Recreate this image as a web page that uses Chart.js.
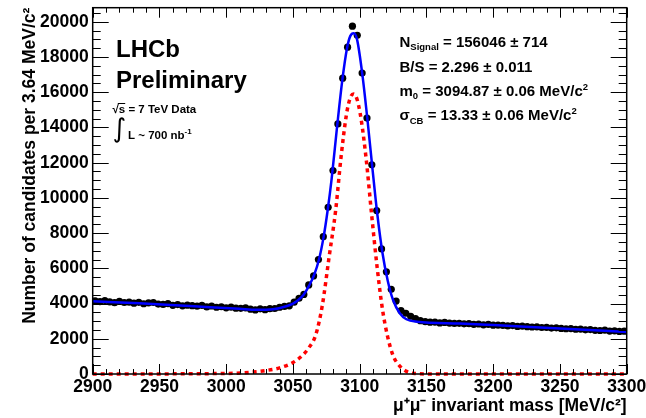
<!DOCTYPE html>
<html>
<head>
<meta charset="utf-8">
<script src="https://cdn.jsdelivr.net/npm/chart.js@4.4.1/dist/chart.umd.min.js"></script>
<style>
  html, body { margin: 0; padding: 0; background: #fff; }
</style>
</head>
<body>
<canvas id="Charts_Jpsi_Mass_Fit" width="646" height="418"></canvas>
<script>
// histogram: 110 bins of 3.64 MeV/c2 between 2900 and 3300
var binLow = 2900;
var binWidth = 400 / 110;
var candidates = [
  4160, 4110, 4170, 4090, 4050, 4120, 4060, 4080, 4020, 4070,
  3990, 4040, 4060, 3970, 3950, 4000, 3900, 3940, 3870, 3910,
  3880, 3850, 3900, 3810, 3860, 3790, 3820, 3760, 3800, 3740,
  3730, 3760, 3680, 3640, 3700, 3650, 3710, 3720, 3790, 3840,
  3870, 4080, 4300, 4520, 5060, 5570, 6500, 7800, 9470, 11550,
  14200, 16800, 18560, 19750, 19230, 17090, 14530, 11880, 9280, 7100,
  5800, 4810, 4140, 3600, 3450, 3280, 3150, 3030, 2970, 2940,
  2950, 2900, 2930, 2890, 2870, 2880, 2850, 2860, 2820, 2840,
  2790, 2820, 2770, 2780, 2760, 2730, 2750, 2700, 2720, 2690,
  2670, 2680, 2640, 2650, 2610, 2620, 2590, 2570, 2580, 2540,
  2550, 2510, 2520, 2480, 2470, 2490, 2440, 2450, 2420, 2430
];

// total fit (blue)
var fitMass  = [2900, 2935, 2973, 3010, 3023, 3035, 3045, 3050, 3054, 3058, 3062, 3066, 3069.5, 3073, 3076, 3079, 3083, 3087, 3090.5, 3093, 3095.5, 3098, 3102, 3106, 3109.5, 3113, 3117, 3121, 3125, 3130, 3135, 3143, 3175, 3200, 3250, 3300];
var fitTotal = [4130, 4020, 3860, 3700, 3650, 3680, 3850, 4000, 4200, 4500, 5000, 5650, 6500, 7800, 9300, 11100, 14000, 16700, 18500, 19200, 19350, 19000, 17000, 14300, 11700, 9200, 6900, 5300, 4200, 3450, 3110, 2970, 2870, 2780, 2580, 2390];

// signal component (red dotted)
var signalMass = [2900, 3000, 3020, 3030, 3040, 3050, 3057, 3062, 3067, 3072, 3077, 3082, 3086, 3090, 3093, 3095.5, 3098, 3101, 3105, 3109, 3113, 3117, 3121, 3125, 3130, 3135, 3140, 3150, 3300];
var signalOnly = [0, 30, 110, 200, 350, 650, 1050, 1500, 2200, 3900, 6600, 9300, 12300, 14700, 15700, 15900, 15600, 14500, 12100, 9000, 6100, 3700, 2100, 1050, 450, 150, 40, 5, 0];

// axis labels
var xTickValues = [2900, 2950, 3000, 3050, 3100, 3150, 3200, 3250, 3300];
var yTickValues = [0, 2000, 4000, 6000, 8000, 10000, 12000, 14000, 16000, 18000, 20000];

var xMin = 2900, xMax = 3300, yMax = 20800;

var fontFamily = '"Liberation Sans", Arial, Helvetica, sans-serif';

function pairs(xs, ys) {
  return xs.map(function (v, i) { return { x: v, y: ys[i] }; });
}

var histPoints = candidates.map(function (v, i) {
  return { x: binLow + (i + 0.5) * binWidth, y: v };
});

// draw a string made of runs with sub/superscripts
function drawRuns(ctx, x, y, parts) {
  parts.forEach(function (p) {
    ctx.font = p.f;
    ctx.fillText(p.t, x, y + (p.dy || 0));
    x += ctx.measureText(p.t).width;
  });
}

var frameAndText = {
  id: 'frameAndText',
  afterDraw: function (chart) {
    var ctx = chart.ctx, a = chart.chartArea;
    var xs = chart.scales.x, ys = chart.scales.y;
    ctx.save();
    ctx.strokeStyle = '#000';
    ctx.lineWidth = 1;
    ctx.beginPath();
    // ROOT style ticks, inside the frame on all four sides
    for (var v = xMin; v <= xMax; v += 10) {
      var px = Math.round(xs.getPixelForValue(v)) + 0.5;
      var len = (v % 50 === 0) ? 10 : 5;
      ctx.moveTo(px, a.bottom); ctx.lineTo(px, a.bottom - len);
      ctx.moveTo(px, a.top); ctx.lineTo(px, a.top + len);
    }
    for (var w = 0; w <= yMax; w += 500) {
      var py = Math.round(ys.getPixelForValue(w)) + 0.5;
      var l2 = (w % 2000 === 0) ? 16 : 8;
      ctx.moveTo(a.left, py); ctx.lineTo(a.left + l2, py);
      ctx.moveTo(a.right, py); ctx.lineTo(a.right - l2, py);
    }
    ctx.stroke();
    ctx.lineWidth = 1.5;
    ctx.strokeRect(a.left, a.top, a.right - a.left, a.bottom - a.top);

    ctx.fillStyle = '#000';
    ctx.textBaseline = 'alphabetic';
    ctx.textAlign = 'left';

    // LHCb label
    ctx.font = 'bold 24px ' + fontFamily;
    ctx.fillText('LHCb', 116, 57);
    ctx.fillText('Preliminary', 116, 88);

    // energy and luminosity
    ctx.font = 'bold 11.5px ' + fontFamily;
    ctx.fillText('\u221A', 112.5, 112.5);
    var rw = ctx.measureText('\u221A').width;
    var sw = ctx.measureText('s').width;
    ctx.fillText('s = 7 TeV Data', 112.5 + rw, 112.5);
    ctx.lineWidth = 1;
    ctx.beginPath();
    ctx.moveTo(112.5 + rw - 1, 103.5); ctx.lineTo(112.5 + rw + sw, 103.5);
    ctx.stroke();
    ctx.font = '26px "DejaVu Sans", sans-serif';
    ctx.fillText('\u222B', 112.5, 137);
    drawRuns(ctx, 128, 138.5, [
      { t: 'L ~ 700 nb', f: 'bold 11.5px ' + fontFamily },
      { t: '-1', f: 'bold 8px ' + fontFamily, dy: -5 }
    ]);

    // fit results
    var big = 'bold 15px ' + fontFamily, small = 'bold 9.5px ' + fontFamily;
    var tx = 399.5;
    drawRuns(ctx, tx, 46.5, [
      { t: 'N', f: big }, { t: 'Signal', f: small, dy: 3.5 },
      { t: ' = 156046 \u00B1 714', f: big }
    ]);
    drawRuns(ctx, tx, 71.5, [{ t: 'B/S = 2.296 \u00B1 0.011', f: big }]);
    drawRuns(ctx, tx, 95.5, [
      { t: 'm', f: big }, { t: '0', f: small, dy: 3.5 },
      { t: ' = 3094.87 \u00B1 0.06 MeV/c', f: big }, { t: '2', f: small, dy: -6 }
    ]);
    drawRuns(ctx, tx, 120, [
      { t: '\u03C3', f: big }, { t: 'CB', f: small, dy: 4 },
      { t: ' = 13.33 \u00B1 0.06 MeV/c', f: big }, { t: '2', f: small, dy: -6 }
    ]);
    ctx.restore();
  }
};

var ctx = document.getElementById('Charts_Jpsi_Mass_Fit').getContext('2d');

new Chart(ctx, {
  type: 'scatter',
  data: {
    datasets: [
      {
        label: 'Fit',
        data: pairs(fitMass, fitTotal),
        showLine: true,
        borderColor: 'rgb(0,0,255)',
        borderWidth: 2.5,
        pointRadius: 0,
        cubicInterpolationMode: 'monotone',
        clip: false
      },
      {
        label: 'Signal',
        data: pairs(signalMass, signalOnly),
        showLine: true,
        borderColor: 'rgb(255,0,0)',
        borderWidth: 3.5,
        borderDash: [4, 4],
        pointRadius: 0,
        cubicInterpolationMode: 'monotone',
        clip: false
      },
      {
        label: 'Data',
        data: histPoints,
        backgroundColor: '#000',
        borderColor: '#000',
        pointRadius: 3.6,
        borderWidth: 0
      }
    ]
  },
  options: {
    responsive: false,
    animation: false,
    layout: { padding: { left: 0, top: 7.7, right: 19.3, bottom: 0 } },
    plugins: {
      legend: { display: false },
      tooltip: { enabled: false }
    },
    scales: {
      x: {
        type: 'linear',
        min: xMin,
        max: xMax,
        grid: { display: false, drawTicks: false },
        border: { display: false },
        afterBuildTicks: function (scale) {
          scale.ticks = xTickValues.map(function (v) { return { value: v }; });
        },
        ticks: {
          autoSkip: false,
          maxRotation: 0,
          padding: 3,
          color: '#000',
          callback: function (v) { return String(v); },
          font: { family: fontFamily, size: 17.5, weight: 'bold' }
        },
        title: {
          display: true,
          text: '\u03BC\u207A\u03BC\u207B invariant mass [MeV/c\u00B2]',
          align: 'end',
          color: '#000',
          padding: { top: 0, bottom: 1 },
          font: { family: fontFamily, size: 17.5, weight: 'bold' }
        },
        afterFit: function (scale) {
          scale.height = 44;
          scale.paddingLeft = 0;
          scale.paddingRight = 0;
        }
      },
      y: {
        type: 'linear',
        min: 0,
        max: yMax,
        grid: { display: false, drawTicks: false },
        border: { display: false },
        afterBuildTicks: function (scale) {
          scale.ticks = yTickValues.map(function (v) { return { value: v }; });
        },
        ticks: {
          autoSkip: false,
          padding: 4,
          color: '#000',
          callback: function (v) { return String(v); },
          font: { family: fontFamily, size: 17.5, weight: 'bold' }
        },
        title: {
          display: true,
          text: 'Number of candidates per 3.64 MeV/c\u00B2',
          align: 'end',
          color: '#000',
          padding: { top: 20, bottom: 0 },
          font: { family: fontFamily, size: 17.5, weight: 'bold' }
        },
        afterFit: function (scale) {
          scale.width = 92.7;
          scale.paddingTop = 0;
          scale.paddingBottom = 0;
        }
      }
    }
  },
  plugins: [frameAndText]
});
</script>
</body>
</html>
